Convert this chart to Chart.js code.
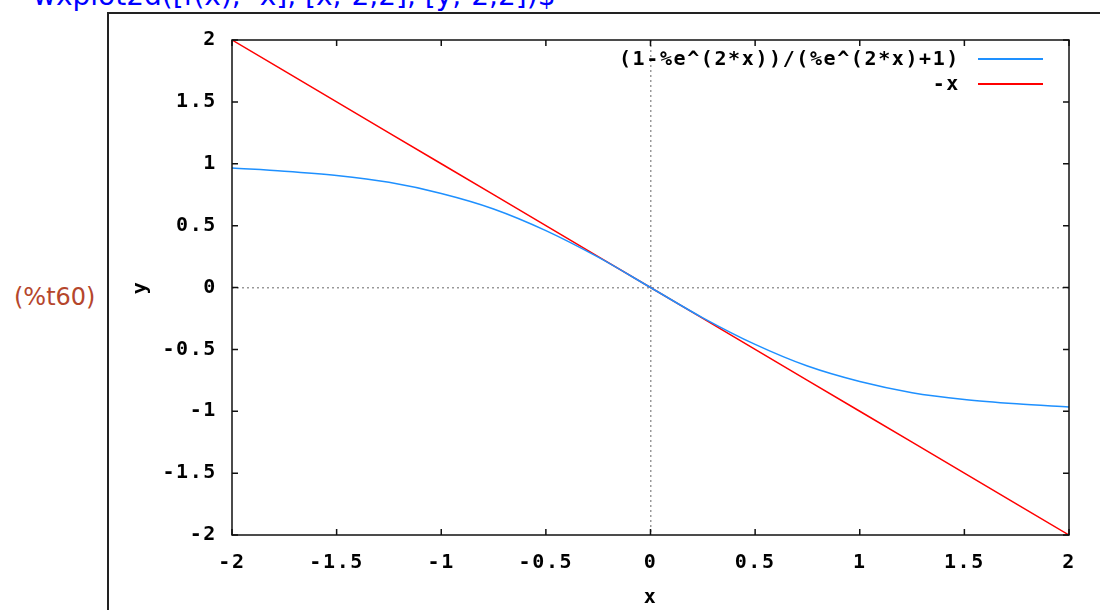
<!DOCTYPE html>
<html>
<head>
<meta charset="utf-8">
<script src="https://cdn.jsdelivr.net/npm/chart.js@4.4.1/dist/chart.umd.min.js"></script>
<style>
  html, body { margin: 0; padding: 0; background: #fff; }
  #wrap { position: relative; width: 1100px; height: 610px; overflow: hidden; }
  #plot { position: absolute; left: 0; top: 0; }
  .cmd { position: absolute; left: 33px; top: -18px; font: 28px "DejaVu Sans", sans-serif; line-height: 1; color: #0000ff; white-space: nowrap; }
  .frame { position: absolute; left: 107px; top: 12px; width: 1000px; height: 620px; border-left: 2px solid #222; border-top: 2px solid #222; }
  .tag { position: absolute; left: 14px; top: 283px; font: 24px "DejaVu Sans", sans-serif; color: #b5462c; }
  .legend { position: absolute; right: 140px; top: 46px; font: bold 20px "DejaVu Sans Mono", monospace; letter-spacing: 1.6px; text-align: right; }
  .legend div { height: 25px; line-height: 25px; white-space: nowrap; }
  .legend span.s { display: inline-block; width: 65px; height: 0; vertical-align: middle; margin-left: 18px; position: absolute; right: -83px; margin-top: 12px; }
</style>
</head>
<body>
<div id="wrap">
  <div class="cmd">wxplot2d([f(x), -x], [x,-2,2], [y,-2,2])$</div>
  <div class="frame"></div>
  <div class="tag">(%t60)</div>
  <canvas id="plot" width="1100" height="610"></canvas>
  <div class="legend">
    <div>(1-%e^(2*x))/(%e^(2*x)+1)<span class="s" style="border-top:2px solid #1e90ff"></span></div>
    <div style="position:relative">-x<span class="s" style="border-top:2px solid #ff0000;top:0"></span></div>
  </div>
</div>
<script>
// values
const xs = [-2, -1.75, -1.5, -1.25, -1, -0.75, -0.5, -0.25, 0, 0.25, 0.5, 0.75, 1, 1.25, 1.5, 1.75, 2];
const fVals = [0.965, 0.94, 0.905, 0.85, 0.76, 0.635, 0.46, 0.245, 0, -0.245, -0.46, -0.635, -0.76, -0.85, -0.905, -0.94, -0.965];
const negXVals = [2, 1.75, 1.5, 1.25, 1, 0.75, 0.5, 0.25, 0, -0.25, -0.5, -0.75, -1, -1.25, -1.5, -1.75, -2];
const tickValues = [-2, -1.5, -1, -0.5, 0, 0.5, 1, 1.5, 2];
const seriesNames = ["(1-%e^(2*x))/(%e^(2*x)+1)", "-x"];

const tickFont = { family: "DejaVu Sans Mono", size: 20, weight: "bold" };

// gnuplot style box with inward ticks on all four sides
const boxPlugin = {
  id: "box",
  beforeDraw(chart) { chart.ctx.letterSpacing = "1.6px"; },
  afterDatasetsDraw(chart) {
    const { ctx, chartArea: a, scales } = chart;
    ctx.save();
    ctx.strokeStyle = "#111";
    ctx.lineWidth = 1.5;
    ctx.strokeRect(a.left, a.top, a.right - a.left, a.bottom - a.top);
    ctx.beginPath();
    tickValues.forEach(v => {
      const px = scales.x.getPixelForValue(v);
      const py = scales.y.getPixelForValue(v);
      ctx.moveTo(px, a.bottom); ctx.lineTo(px, a.bottom - 6);
      ctx.moveTo(px, a.top); ctx.lineTo(px, a.top + 6);
      ctx.moveTo(a.left, py); ctx.lineTo(a.left + 6, py);
      ctx.moveTo(a.right, py); ctx.lineTo(a.right - 6, py);
    });
    ctx.stroke();
    ctx.restore();
  }
};

const zeroGrid = {
  display: true,
  drawTicks: false,
  color: ctx => (ctx.tick && ctx.tick.value === 0) ? "#999" : "rgba(0,0,0,0)",
  lineWidth: 1.5
};

new Chart(document.getElementById("plot"), {
  type: "scatter",
  data: {
    datasets: [
      {
        label: seriesNames[0],
        data: xs.map((x, i) => ({ x, y: fVals[i] })),
        showLine: true, borderColor: "#1e90ff", borderWidth: 1.5,
        pointRadius: 0, cubicInterpolationMode: "monotone"
      },
      {
        label: seriesNames[1],
        data: xs.map((x, i) => ({ x, y: negXVals[i] })),
        showLine: true, borderColor: "#ff0000", borderWidth: 1.5,
        pointRadius: 0
      }
    ]
  },
  options: {
    responsive: false,
    animation: false,
    layout: { padding: { left: 129, top: 40, right: 31, bottom: 0 } },
    plugins: { legend: { display: false }, tooltip: { enabled: false } },
    scales: {
      x: {
        type: "linear", min: -2, max: 2,
        afterBuildTicks: s => { s.ticks = tickValues.map(v => ({ value: v })); },
        afterFit: s => { s.height = 75; },
        ticks: { font: tickFont, color: "#000", padding: 16, maxRotation: 0, callback: v => String(v) },
        grid: zeroGrid,
        border: { display: false, dash: [2, 3] },
        title: { display: true, text: "x", font: tickFont, color: "#000", padding: 0 }
      },
      y: {
        type: "linear", min: -2, max: 2,
        afterBuildTicks: s => { s.ticks = tickValues.map(v => ({ value: v })); },
        afterFit: s => { s.width = 103; },
        ticks: { font: tickFont, color: "#000", padding: 15, callback: v => String(v) },
        grid: zeroGrid,
        border: { display: false, dash: [2, 3] },
        title: { display: true, text: "y", font: tickFont, color: "#000", padding: 0 }
      }
    }
  },
  plugins: [boxPlugin]
});
</script>
</body>
</html>
